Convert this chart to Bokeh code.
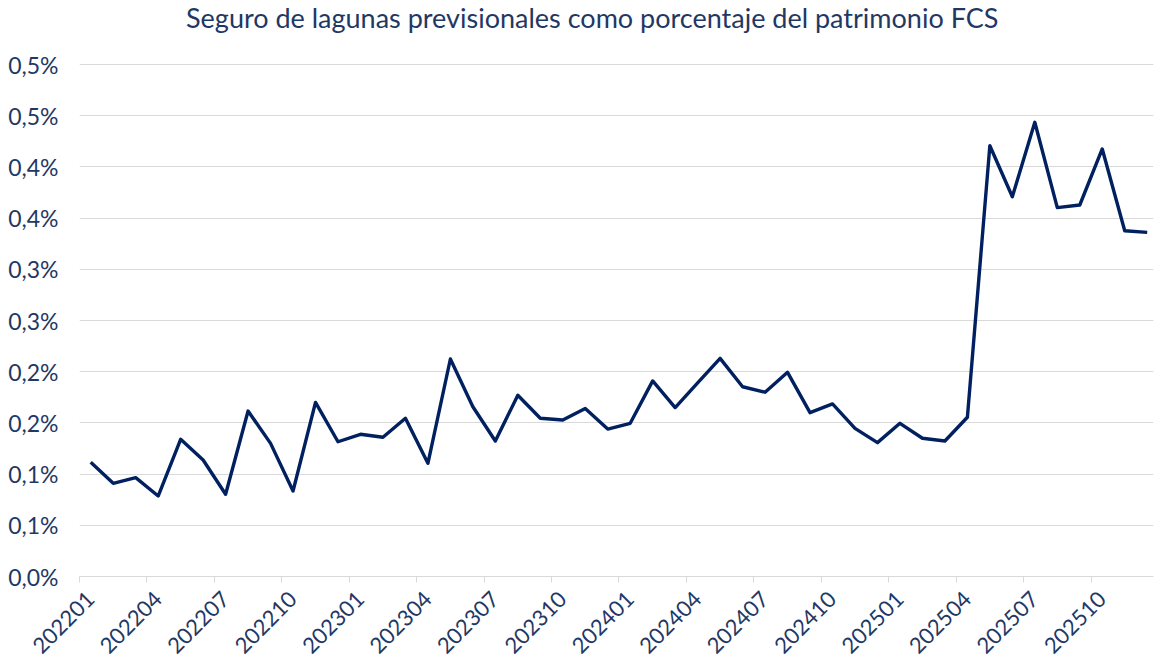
from bokeh.plotting import figure
from bokeh.models import FixedTicker, Range1d, Label
from bokeh.embed import file_html
from bokeh.resources import INLINE
import math

title_text = "Seguro de lagunas previsionales como porcentaje del patrimonio FCS"

months = [
    "202201", "202202", "202203", "202204", "202205", "202206",
    "202207", "202208", "202209", "202210", "202211", "202212",
    "202301", "202302", "202303", "202304", "202305", "202306",
    "202307", "202308", "202309", "202310", "202311", "202312",
    "202401", "202402", "202403", "202404", "202405", "202406",
    "202407", "202408", "202409", "202410", "202411", "202412",
    "202501", "202502", "202503", "202504", "202505", "202506",
    "202507", "202508", "202509", "202510", "202511", "202512",
]

# values in percent of FCS assets
pct_values = [
    0.1115, 0.0910, 0.0965, 0.0786, 0.1340, 0.1138,
    0.0803, 0.1616, 0.1300, 0.0835, 0.1700, 0.1316,
    0.1389, 0.1360, 0.1545, 0.1105, 0.2124, 0.1658,
    0.1323, 0.1770, 0.1545, 0.1528, 0.1640, 0.1440,
    0.1496, 0.1910, 0.1650, 0.1890, 0.2130, 0.1853,
    0.1800, 0.1994, 0.1600, 0.1685, 0.1447, 0.1307,
    0.1496, 0.1350, 0.1323, 0.1555, 0.4207, 0.3709,
    0.4436, 0.3602, 0.3628, 0.4175, 0.3377, 0.3361,
]

y_ticks = [0.0, 0.05, 0.10, 0.15, 0.20, 0.25, 0.30, 0.35, 0.40, 0.45, 0.50]
y_tick_labels = ["0,0%", "0,1%", "0,1%", "0,2%", "0,2%", "0,3%",
                 "0,3%", "0,4%", "0,4%", "0,5%", "0,5%"]

TEXT = "#1F3864"
LINE = "#002060"
GRID = "#D9D9D9"
FONT = "Lato"

xs = list(range(len(months)))

# frame reaches the top of the canvas so the title can sit inside it
p = figure(width=1154, height=665, output_backend="svg", toolbar_location=None,
           x_range=Range1d(-0.5, 47.28), y_range=Range1d(0, 0.5625),
           min_border_left=79, min_border_right=1, min_border_top=0,
           min_border_bottom=89)
p.outline_line_color = None
p.background_fill_color = "white"
p.border_fill_color = "white"

p.line(xs, pct_values, line_color=LINE, line_width=3.4, line_join="round")

# y axis
p.yaxis.ticker = FixedTicker(ticks=y_ticks)
p.yaxis.major_label_overrides = {t: l for t, l in zip(y_ticks, y_tick_labels)}
p.yaxis.axis_line_color = None
p.yaxis.major_tick_line_color = None
p.yaxis.minor_tick_line_color = None
p.yaxis.major_label_standoff = 15
p.yaxis.major_label_text_font = FONT
p.yaxis.major_label_text_font_size = "23px"
p.yaxis.major_label_text_color = TEXT

# x axis
label_idx = list(range(0, len(months), 3))
p.xaxis.ticker = FixedTicker(ticks=label_idx,
                             minor_ticks=[i - 0.5 for i in range(0, len(months) + 1, 3)])
p.xaxis.major_label_overrides = {i: months[i] for i in label_idx}
p.xaxis.major_label_orientation = math.pi / 4
p.xaxis.axis_line_color = GRID
p.xaxis.axis_line_width = 1
p.xaxis.major_tick_line_color = None
p.xaxis.minor_tick_line_color = GRID
p.xaxis.minor_tick_in = 0
p.xaxis.minor_tick_out = 6
p.xaxis.major_label_standoff = 13
p.xaxis.major_label_text_font = FONT
p.xaxis.major_label_text_font_size = "22px"
p.xaxis.major_label_text_color = TEXT

p.xgrid.grid_line_color = None
p.ygrid.grid_line_color = GRID
p.ygrid.grid_line_width = 1

p.add_layout(Label(x=22.31, y=0.5459, text=title_text, text_align="center",
                   text_baseline="alphabetic", text_font=FONT,
                   text_font_size="27px", text_color=TEXT))

open("out.html", "w").write(file_html(p, INLINE))
